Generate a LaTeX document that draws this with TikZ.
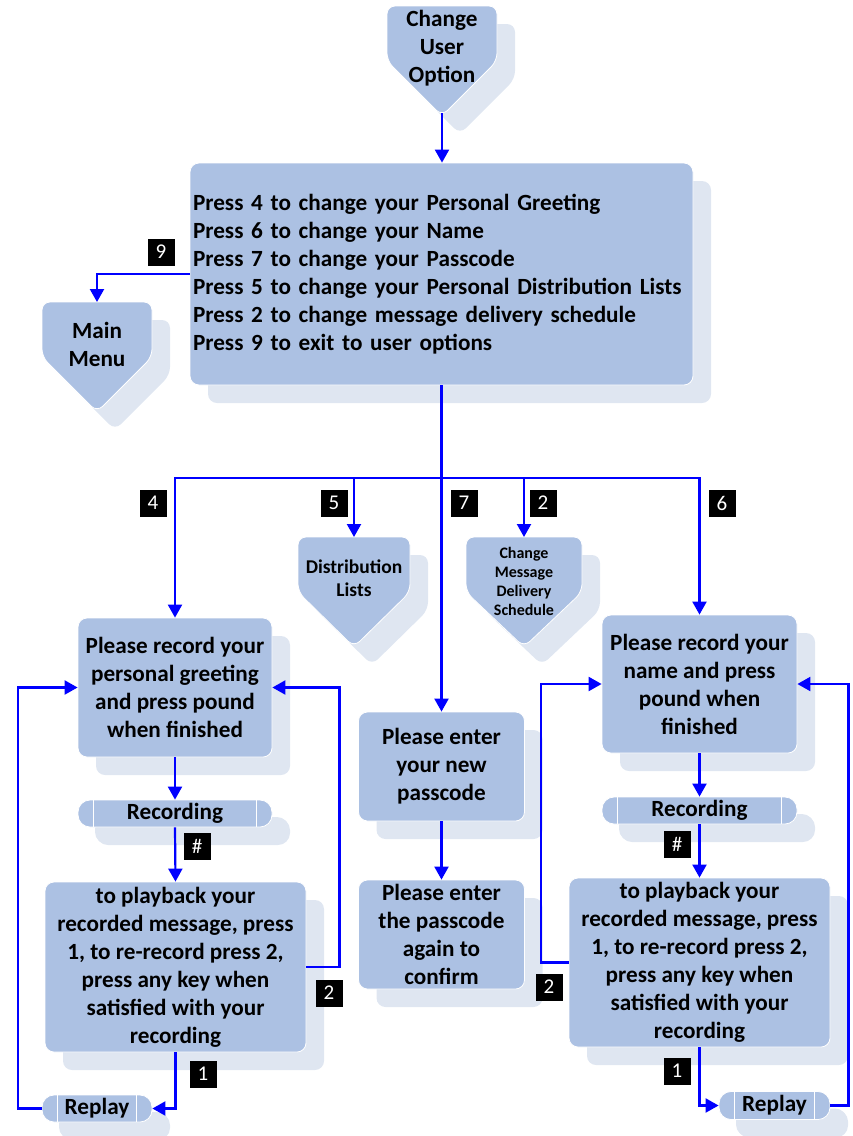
\documentclass[tikz,border=0pt]{standalone}
\usepackage{fontspec}
\setmainfont{Carlito}
\usetikzlibrary{arrows.meta,shadows,calc}
\definecolor{boxfill}{RGB}{172,193,227}
\definecolor{shadowfill}{RGB}{223,230,241}
\definecolor{linkblue}{RGB}{0,0,255}
\begin{document}
\begin{tikzpicture}[x=1pt,y=-1pt,
  base/.style={font=\bfseries\fontsize{23.2}{28}\selectfont},
  box/.style={base, rectangle, rounded corners=9pt, fill=boxfill, draw=white, line width=0.8pt,
    align=center, inner sep=0pt,
    general shadow={fill=shadowfill, draw=none, shadow xshift=18pt, shadow yshift=-18pt}},
  bar/.style={box, rounded corners=12pt, general shadow={fill=shadowfill, draw=none, shadow xshift=17pt, shadow yshift=-17pt}},
  label/.style={base, align=center, inner sep=0pt},
  tag/.style={fill=black, text=white, font=\fontsize{21}{21}\selectfont, minimum size=27pt, inner sep=0pt},
  link/.style={draw=linkblue, line width=2.2pt},
  arr/.style={link, -{Triangle[width=14pt,length=13pt]}},
  divider/.style={draw=white, line width=1pt},
  pics/hplate/.style={code={
    \fill[shadowfill, rounded corners=8pt] (-#1+18,18) -- (#1+18,18) -- (#1+18,73) -- (18,128) -- (-#1+18,73) -- cycle;
    \filldraw[boxfill, draw=white, line width=0.8pt, rounded corners=8pt] (-#1,0) -- (#1,0) -- (#1,55) -- (0,110) -- (-#1,55) -- cycle;
  }}
]
\useasboundingbox (0,0) rectangle (853,1136);

% home-plate shapes
\pic at (442,6) {hplate=55};
\node[label] (cuo) at (442,48) {Change\\User\\Option};
\coordinate (cuo-tip) at (442,113);

\pic at (97,302) {hplate=55};
\node[label] (mm) at (97,344) {Main\\Menu};
\coordinate (mm-top) at (97,302);

\pic at (354,537) {hplate=56};
\node[label, font=\bfseries\fontsize{19.5}{23}\selectfont] (dl) at (354,578) {Distribution\\Lists};
\coordinate (dl-top) at (354,537);

\pic at (524,537) {hplate=58};
\node[label, font=\bfseries\fontsize{16}{19}\selectfont] (cm) at (524,581) {Change\\Message\\Delivery\\Schedule};
\coordinate (cm-top) at (524,537);

% boxes
\node[box, minimum width=503pt, minimum height=222pt, text width=497pt, align=left] (menu) at (441.5,274)
  {Press 4 to change your Personal Greeting\\
   Press 6 to change your Name\\
   Press 7 to change your Passcode\\
   Press 5 to change your Personal Distribution Lists\\
   Press 2 to change message delivery schedule\\
   Press 9 to exit to user options};

\node[box, minimum width=194pt, minimum height=139pt] (greet) at (175,687.5)
  {Please record your\\personal greeting\\and press pound\\when finished};
\node[bar, minimum width=194pt, minimum height=27pt] (rec1) at (175,813.5) {Recording};
\node[box, minimum width=261pt, minimum height=170pt] (play1) at (175.5,967)
  {to playback your\\recorded message, press\\1, to re-record press 2,\\press any key when\\satisfied with your\\recording};
\node[bar, minimum width=110pt, minimum height=27pt] (replay1) at (97,1108.5) {Replay};

\node[box, minimum width=166pt, minimum height=109pt] (pass1) at (441.5,766.5)
  {Please enter\\your new\\passcode};
\node[box, minimum width=166pt, minimum height=109pt] (pass2) at (441.5,934.5)
  {Please enter\\the passcode\\again to\\confirm};

\node[box, minimum width=195pt, minimum height=138pt] (name) at (699.5,684)
  {Please record your\\name and press\\pound when\\finished};
\node[bar, minimum width=195pt, minimum height=27pt] (rec2) at (699.5,810.5) {Recording};
\node[box, minimum width=261pt, minimum height=169pt] (play2) at (699.5,962.5)
  {to playback your\\recorded message, press\\1, to re-record press 2,\\press any key when\\satisfied with your\\recording};
\node[bar, minimum width=111pt, minimum height=28pt] (replay2) at (774.5,1105.5) {Replay};

% dividers of the predefined-process bars
\foreach \b in {rec1,rec2,replay1,replay2}{
  \draw[divider] ([xshift=16pt]\b.north west) -- ([xshift=16pt]\b.south west);
  \draw[divider] ([xshift=-16pt]\b.north east) -- ([xshift=-16pt]\b.south east);
}

% connectors
\coordinate (br) at (441.5,478);
\draw[arr] (cuo-tip) -- (cuo-tip |- menu.north);
\draw[arr] (menu.west) -| (mm-top);
\draw[arr] (menu.south) -- (pass1.north);
\draw[arr] (br) -| (greet.north);
\draw[arr] (br) -| (dl-top);
\draw[arr] (br) -| (cm-top);
\draw[arr] (br) -| (name.north);

\draw[arr] (greet.south) -- (rec1.north);
\draw[arr] (rec1.south) -- (play1.north);
\draw[arr] (play1.east) -- ++(33,0) |- (greet.east);
\draw[arr] (play1.south) |- (replay1.east);
\draw[arr] (replay1.west) -- ++(-24,0) |- (greet.west);

\draw[arr] (pass1.south) -- (pass2.north);

\draw[arr] (name.south) -- (rec2.north);
\draw[arr] (rec2.south) -- (play2.north);
\draw[arr] (play2.west) -- ++(-28,0) |- (name.west);
\draw[arr] (play2.south) |- (replay2.west);
\draw[arr] (replay2.east) -- ++(18,0) |- (name.east);

% key labels
\node[tag] (t9) at (161,252) {9};
\node[tag] (t4) at (153,503) {4};
\node[tag] (t5) at (334,503) {5};
\node[tag] (t7) at (464,503) {7};
\node[tag] (t2a) at (543,503) {2};
\node[tag] (t6) at (722,503) {6};
\node[tag] (h1) at (197,846) {\#};
\node[tag] (h2) at (677,844) {\#};
\node[tag] (t2b) at (329,993) {2};
\node[tag] (t1a) at (203,1074) {1};
\node[tag] (t2c) at (549,987) {2};
\node[tag] (t1b) at (677,1071) {1};
\end{tikzpicture}
\end{document}
